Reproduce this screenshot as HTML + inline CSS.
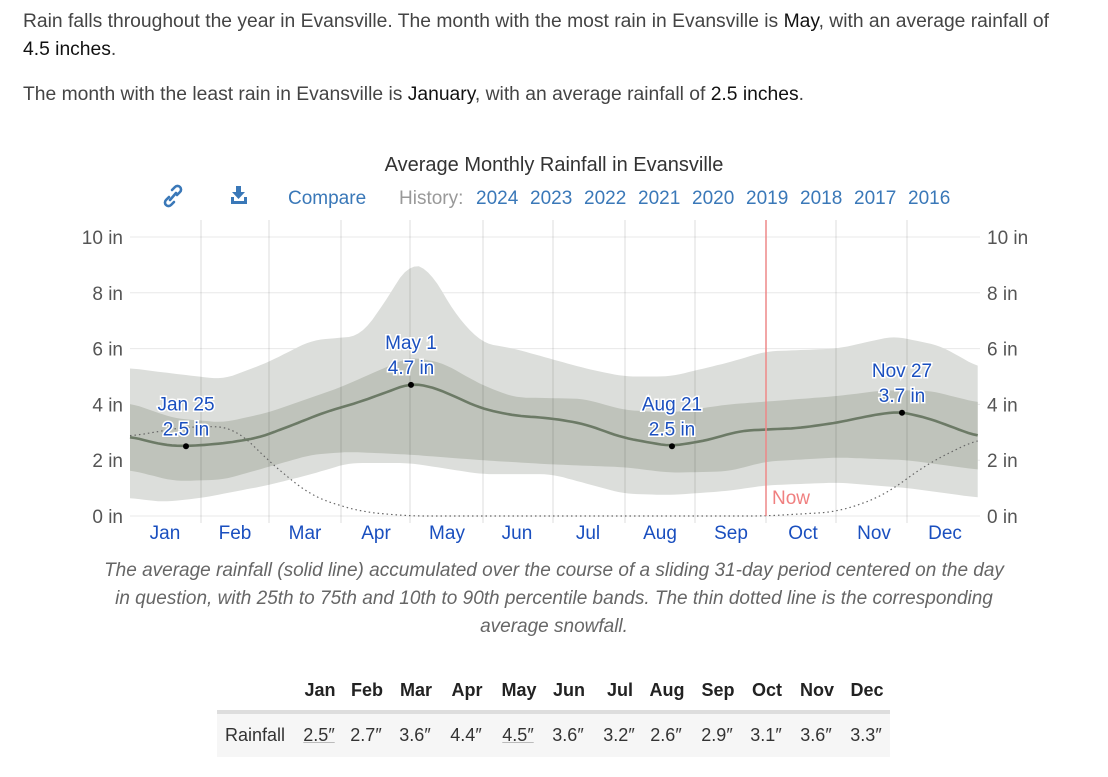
<!DOCTYPE html>
<html><head><meta charset="utf-8"><style>
body{margin:0;width:1108px;height:777px;background:#fff;font-family:"Liberation Sans",sans-serif;color:#444;position:relative;overflow:hidden}
.p{position:absolute;left:23px;font-size:19.3px;line-height:28px;color:#444;white-space:nowrap}
.p b{font-weight:normal;color:#111}
.cap{position:absolute;left:98px;width:912px;top:557px;text-align:center;font-style:italic;font-size:19px;line-height:28px;color:#666}
.tb{position:absolute;font-size:18px}
.h{position:absolute;top:680px;font-weight:bold;color:#222;transform:translateX(-50%)}
.v{position:absolute;top:725px;color:#333;transform:translateX(-50%)}
</style></head><body>
<div class="p" style="top:8px">Rain falls throughout the year in Evansville. The month with the most rain in Evansville is <b>May</b>, with an average rainfall of<br><b>4.5 inches</b>.</div>
<div class="p" style="top:81px">The month with the least rain in Evansville is <b>January</b>, with an average rainfall of <b>2.5 inches</b>.</div>
<svg id="s" width="1108" height="560" style="position:absolute;left:0;top:0" font-family="Liberation Sans, sans-serif"></svg>
<div class="cap">The average rainfall (solid line) accumulated over the course of a sliding 31-day period centered on the day in question, with 25th to 75th and 10th to 90th percentile bands. The thin dotted line is the corresponding average snowfall.</div>
<div style="position:absolute;left:217px;top:710px;width:673px;height:4px;background:#ddd"></div>
<div style="position:absolute;left:217px;top:714px;width:673px;height:43px;background:#f6f6f6"></div>
<div id="t"></div>
<script>
var X0=130,X1=980,Y0=516,K=27.9;
function X(d){return X0+(X1-X0)*d/365}function Y(v){return Y0-v*K}
function D(m,d){return [0,31,59,90,120,151,181,212,243,273,304,334][m-1]+d-1}
function interp(pts,w){if(w===undefined)w=8;var raw=[];for(var d=0;d<=365;d++){for(var i=0;i<pts.length-1;i++){if(d>=pts[i][0]&&d<=pts[i+1][0]){var t=(d-pts[i][0])/(pts[i+1][0]-pts[i][0]);raw.push(pts[i][1]+(pts[i+1][1]-pts[i][1])*t);break;}}}
var o=[];for(var d=0;d<raw.length;d+=2){var s=0,n=0;for(var j=d-w;j<=d+w;j++){var k=Math.min(raw.length-1,Math.max(0,j));s+=raw[k];n++;}o.push([X(d),Y(s/n)]);}return o}
function P(a){return a.map(function(m){return[D(m[0],m[1]),m[2]]})}
var mean=P([[1,1,2.85],[1,15,2.55],[1,25,2.5],[2,10,2.6],[2,25,2.8],[3,10,3.2],[3,25,3.7],[4,10,4.1],[4,20,4.4],[5,1,4.75],[5,10,4.65],[5,20,4.3],[6,1,3.85],[6,15,3.6],[7,1,3.5],[7,15,3.3],[8,1,2.8],[8,21,2.5],[9,5,2.7],[9,20,3.05],[10,1,3.1],[10,15,3.15],[11,1,3.35],[11,15,3.6],[11,27,3.75],[12,10,3.5],[12,31,2.85],[12,32,2.85]]);
var p75=P([[1,1,4.05],[1,20,3.5],[2,10,3.35],[3,1,3.7],[4,1,4.6],[5,1,5.7],[5,15,5.5],[6,1,4.7],[6,15,4.25],[7,15,4.2],[8,1,3.8],[8,21,3.7],[9,15,4.0],[10,1,4.1],[11,1,4.3],[11,20,4.5],[12,10,4.5],[12,32,4.05]]);
var p25=P([[1,1,1.65],[1,20,1.25],[2,10,1.3],[3,1,1.75],[3,20,2.2],[4,5,2.3],[5,1,2.2],[6,1,2.0],[7,1,1.85],[8,1,1.75],[8,21,1.55],[9,15,1.6],[10,1,1.95],[11,1,2.1],[12,1,2.0],[12,32,1.65]]);
var p90=P([[1,1,5.3],[1,20,5.1],[2,10,4.9],[3,1,5.5],[3,20,6.3],[4,10,6.45],[4,20,7.6],[5,1,9.1],[5,10,8.8],[5,20,7.3],[6,1,6.2],[6,15,6.0],[7,15,5.3],[8,1,5.0],[8,21,5.0],[9,15,5.5],[10,1,5.9],[11,1,6.0],[11,25,6.45],[12,15,6.1],[12,32,5.3]]);
var p10=P([[1,1,0.65],[1,15,0.5],[2,1,0.65],[3,1,1.1],[3,20,1.5],[4,5,1.9],[5,1,1.9],[6,1,1.5],[7,1,1.5],[8,1,0.8],[8,21,0.75],[9,15,0.9],[10,1,1.1],[11,1,1.2],[12,1,1.0],[12,32,0.65]]);
var snow=P([[1,1,2.85],[1,25,3.2],[2,15,3.2],[3,1,2.0],[3,20,0.7],[4,10,0.15],[5,1,0],[10,1,0],[11,1,0.15],[11,20,0.7],[12,10,1.9],[12,32,2.8]]);
function pl(a){return a.map(function(p){return p[0].toFixed(1)+','+p[1].toFixed(1)}).join(' ')}
function band(a,b){return pl(interp(a,5))+' '+pl(interp(b,5).reverse())}
var s='';
for(var v=0;v<=10;v+=2){s+='<line x1="130" x2="980" y1="'+Y(v)+'" y2="'+Y(v)+'" stroke="#e8e8e8"/>';
s+='<text x="123" y="'+(Y(v)+7)+'" text-anchor="end" font-size="19" fill="#555">'+v+' in</text><text x="987" y="'+(Y(v)+7)+'" font-size="19" fill="#555">'+v+' in</text>';}
s+='<polygon points="'+band(p90,p10)+'" fill="#dcdedb"/>';
s+='<polygon points="'+band(p75,p25)+'" fill="#bfc3bb"/>';
[201,269,341,410,483,553,625,695,766,836,907].forEach(function(x){s+='<line x1="'+x+'" x2="'+x+'" y1="220" y2="523" stroke="#000" stroke-opacity="0.13"/>'});
s+='<polyline points="'+pl(interp(snow))+'" fill="none" stroke="#666" stroke-width="1.2" stroke-dasharray="1.5,3"/>';
s+='<polyline points="'+pl(interp(mean,5))+'" fill="none" stroke="#6c7a66" stroke-width="2.6"/>';
s+='<line x1="766" x2="766" y1="220" y2="516" stroke="#e88" stroke-width="1.5"/><text x="772" y="504" font-size="19" fill="#f08080">Now</text>';
var ann=[[186,2.5,'Jan 25','2.5 in'],[411,4.7,'May 1','4.7 in'],[672,2.5,'Aug 21','2.5 in'],[902,3.7,'Nov 27','3.7 in']];
ann.forEach(function(a){var y=Y(a[1]);s+='<circle cx="'+a[0]+'" cy="'+y+'" r="3" fill="#000"/>';
s+='<text x="'+a[0]+'" y="'+(y-36)+'" text-anchor="middle" font-size="19" fill="#1a4fbf" stroke="#fff" stroke-width="3" paint-order="stroke">'+a[2]+'</text><text x="'+a[0]+'" y="'+(y-11)+'" text-anchor="middle" font-size="19" fill="#1a4fbf" stroke="#fff" stroke-width="3" paint-order="stroke">'+a[3]+'</text>';});
var ml=['Jan','Feb','Mar','Apr','May','Jun','Jul','Aug','Sep','Oct','Nov','Dec'],mx=[165,235,305,376,447,517,588,660,731,803,874,945];
ml.forEach(function(m,i){s+='<text x="'+mx[i]+'" y="539" text-anchor="middle" font-size="19" fill="#1a4fbf">'+m+'</text>'});
s+='<text x="554" y="171" text-anchor="middle" font-size="20" fill="#333">Average Monthly Rainfall in Evansville</text>';
s+='<text x="288" y="204" font-size="19" fill="#3a78b8">Compare</text><text x="399" y="204" font-size="19" fill="#999">History:</text>';
var yr=['2024','2023','2022','2021','2020','2019','2018','2017','2016'];yr.forEach(function(y,i){s+='<text x="'+(476+i*54)+'" y="204" font-size="19" fill="#3a78b8">'+y+'</text>'});
s+='<g stroke="#3a78b8" stroke-width="2.6" fill="none" stroke-linecap="round"><path d="M172 190 l3 -3 a3.5 3.5 0 0 1 5 5 l-3 3 M174 202 l-3 3 a3.5 3.5 0 0 1 -5 -5 l3 -3 M170 200 l6 -7"/></g>';
s+='<g fill="#3a78b8"><rect x="236" y="186" width="5" height="7"/><polygon points="232,192 245,192 238.5,199"/><rect x="231" y="201" width="16" height="3"/><rect x="231" y="197" width="3" height="6"/><rect x="244" y="197" width="3" height="6"/></g>';
document.getElementById('s').innerHTML=s;
var hx=[320,367,416,467,519,569,620,667,718,767,817,867],vals=['2.5″','2.7″','3.6″','4.4″','4.5″','3.6″','3.2″','2.6″','2.9″','3.1″','3.6″','3.3″'],t='';
ml.forEach(function(m,i){t+='<div class="tb h" style="left:'+hx[i]+'px">'+m+'</div>';
var u=(i==0||i==4)?' style="text-decoration:underline;text-decoration-color:#bbb"':'';
t+='<div class="tb v" style="left:'+(hx[i]-1)+'px"><span'+u+'>'+vals[i]+'</span></div>';});
t+='<div class="tb" style="left:225px;top:725px;color:#333">Rainfall</div>';
document.getElementById('t').innerHTML=t;
</script>
</body></html>
